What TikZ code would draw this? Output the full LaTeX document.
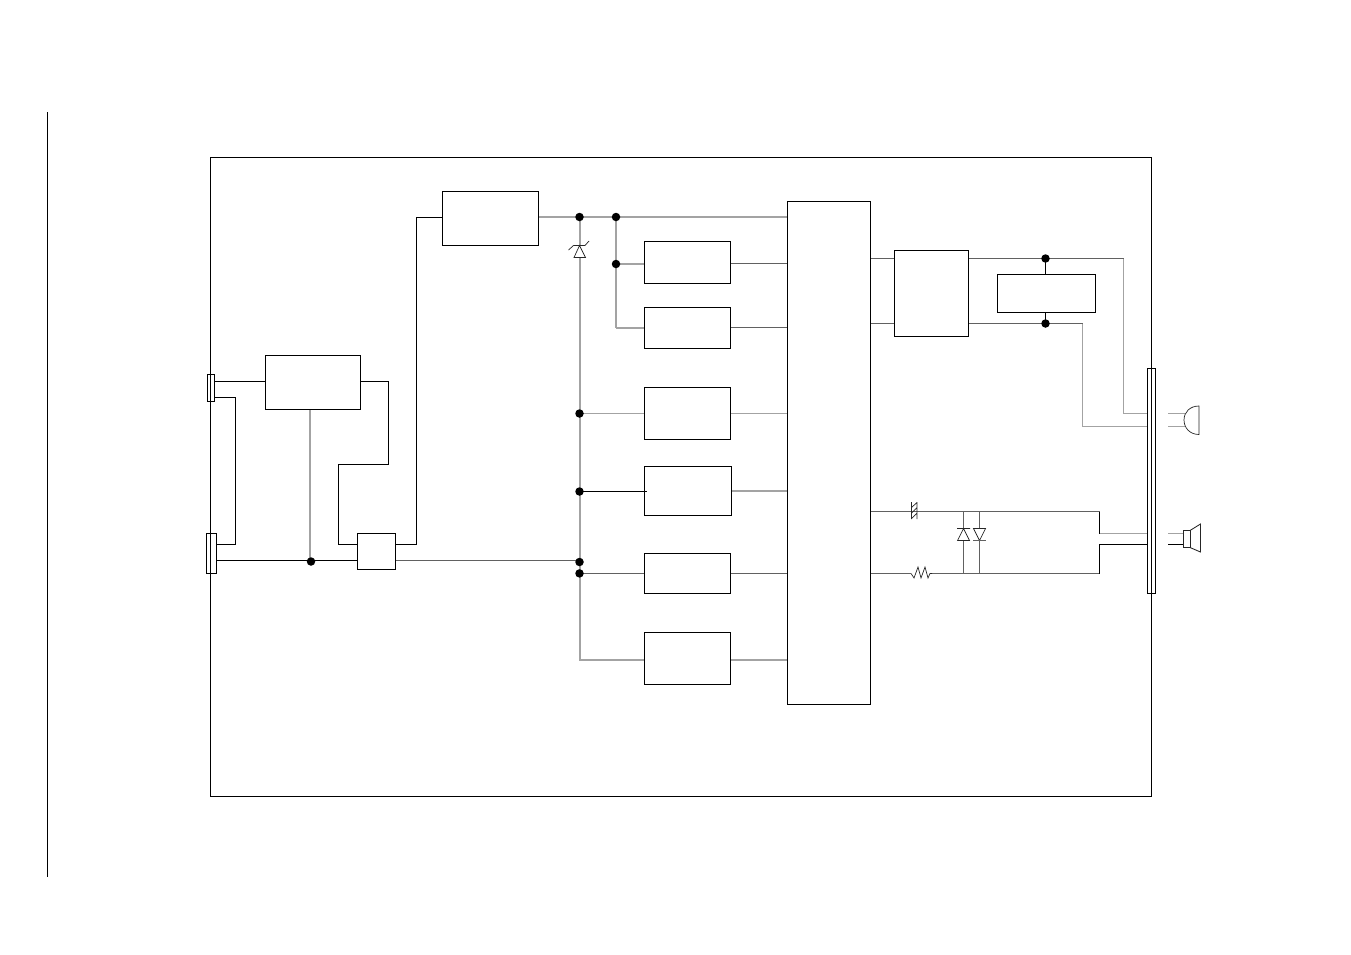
\documentclass[tikz,border=0pt]{standalone}
\pgfdeclarelayer{wires}
\pgfsetlayers{wires,main}
\tikzset{
  boxn/.style={draw=black,line width=.9pt,inner sep=0pt,outer sep=0pt,anchor=north west},
  jdot/.style={circle,fill=black,draw=none,inner sep=0pt,minimum size=8.5pt},
  wk/.style={line width=.9pt,draw=black,line join=miter},
  wg/.style={line width=1.5pt,draw=black!36,line join=miter},
  wd/.style={line width=1.05pt,draw=black!62,line join=miter},
  sym/.style={line width=.7pt,draw=black!85,line join=miter},
}
\begin{document}
\begin{tikzpicture}[x=1pt,y=-1pt]
\useasboundingbox (0,0) rectangle (1351,954);
% page rule and frame
\coordinate (ruleT) at (47,112); \coordinate (ruleB) at (47,877);
\draw[wk] (ruleT) -- (ruleB);
\node[boxn,minimum width=941pt,minimum height=638.5pt] (frame) at (210.5,157.5) {};
% connectors
\node[boxn,minimum width=7.5pt,minimum height=27pt] (cnA) at (207,374.5) {};
\node[boxn,minimum width=9.5pt,minimum height=40pt] (cnB) at (206.8,533.5) {};
\node[boxn,minimum width=8pt,minimum height=225pt] (bar) at (1147.5,368.5) {};
% blocks
\node[boxn,minimum width=95pt,minimum height=54pt] (A) at (265.5,355.5) {};
\node[boxn,minimum width=38pt,minimum height=36pt] (sw) at (357.5,533.5) {};
\node[boxn,minimum width=96pt,minimum height=54pt] (B) at (442.5,191.5) {};
\node[boxn,minimum width=86pt,minimum height=42pt] (b1) at (644.5,241.5) {};
\node[boxn,minimum width=86pt,minimum height=41pt] (b2) at (644.5,307.5) {};
\node[boxn,minimum width=86pt,minimum height=52pt] (b3) at (644.5,387.5) {};
\node[boxn,minimum width=87pt,minimum height=49pt] (b4) at (644.5,466.5) {};
\node[boxn,minimum width=86pt,minimum height=40pt] (b5) at (644.5,553.5) {};
\node[boxn,minimum width=86pt,minimum height=52pt] (b6) at (644.5,632.5) {};
\node[boxn,minimum width=83pt,minimum height=503pt] (cpu) at (787.5,201.5) {};
\node[boxn,minimum width=74pt,minimum height=86pt] (C) at (894.5,250.5) {};
\node[boxn,minimum width=98pt,minimum height=38pt] (D) at (997.5,274.5) {};
% junctions
\node[jdot] (j1) at (579.5,217) {};
\node[jdot] (j2) at (616,217) {};
\node[jdot] (j3) at (616,264) {};
\node[jdot] (j4) at (579.5,413.5) {};
\node[jdot] (j5) at (579.5,491.5) {};
\node[jdot] (j6) at (579.5,562) {};
\node[jdot] (j7) at (579.5,573.4) {};
\node[jdot] (j8) at (311,561.5) {};
\node[jdot] (j9) at (1045.5,258.5) {};
\node[jdot] (j10) at (1045.5,323.5) {};
\begin{pgfonlayer}{wires}
% left side
\draw[wk] (cnA.east |- 0,381) -- (A.west |- 0,381);
\draw[wk] (cnA.east |- 0,397.5) -- (235.5,397.5) -- (235.5,544.5) -- (cnB.east |- 0,544.5);
\draw[wk] (cnB.east |- 0,560.5) -- (sw.west |- 0,560.5);
\draw[wg] (310,409.5) -- (310,561);
\draw[wk] (A.east |- 0,381.5) -- (388.5,381.5) -- (388.5,464.5) -- (338.5,464.5) -- (338.5,544.5) -- (sw.west |- 0,544.5);
\draw[wk] (sw.east |- 0,544.5) -- (416.5,544.5) -- (416.5,217.5) -- (B.west |- 0,217.5);
\draw[wd] (sw.east |- 0,560.5) -- (j6.center |- 0,560.5);
% supply rails
\draw[wg] (B.east |- j1) -- (cpu.west |- j1);
\draw[wg] (580,217) -- (580,245);
\draw[wg] (580,258) -- (580,660) -- (b6.west |- 0,660);
\draw[wg] (j2.center) -- (j3.center);
\draw[wg] (j3.center) -- (b1.west |- j3);
\draw[wg] (j3.center) -- (616,328);
\draw[wg] (616,328) -- (b2.west |- 0,328);
\draw[wg] (j4.center) -- (b3.west |- j4);
\draw[wk] (j5.center) -- (647,491.5);
\draw[wd] (j7.center) -- (b5.west |- j7);
% block outputs
\draw[wd] (b1.east |- 0,263.5) -- (cpu.west |- 0,263.5);
\draw[wd] (b2.east |- 0,327.6) -- (cpu.west |- 0,327.6);
\draw[wg] (b3.east |- 0,413.5) -- (cpu.west |- 0,413.5);
\draw[wg] (b4.east |- 0,491) -- (cpu.west |- 0,491);
\draw[wd] (b5.east |- 0,573.5) -- (cpu.west |- 0,573.5);
\draw[wg] (b6.east |- 0,660) -- (cpu.west |- 0,660);
% audio amp
\draw[wd] (cpu.east |- 0,258.5) -- (C.west |- 0,258.5);
\draw[wd] (cpu.east |- 0,323.5) -- (C.west |- 0,323.5);
\draw[wd] (C.east |- 0,258.5) -- (1123.5,258.5);
\draw[wd] (C.east |- 0,323.5) -- (1082.5,323.5);
\draw[wg] (1123.5,258.5) -- (1123.5,413.5) -- (bar.west |- 0,413.5);
\draw[wg] (1082.5,323.5) -- (1082.5,426.5) -- (bar.west |- 0,426.5);
\draw[wk] (j9.center) -- (D.north -| j9);
\draw[wk] (j10.center) -- (D.south -| j10);
% speaker lines
\draw[wd] (cpu.east |- 0,511.5) -- (1099.5,511.5);
\draw[wk] (1099.5,511.5) -- (1099.5,533.5);
\draw[wg,line width=1.7pt] (1099.5,533.5) -- (bar.west |- 0,533.5);
\draw[wd] (cpu.east |- 0,573.5) -- (911,573.5);
\draw[wd] (932,573.5) -- (1099.5,573.5);
\draw[wk] (1099.5,573.5) -- (1099.5,544.5) -- (bar.west |- 0,544.5);
% diodes
\draw[wd] (963.5,511.5) -- (963.5,528.5) (963.5,540.5) -- (963.5,573.5);
\draw[wd] (979.5,511.5) -- (979.5,528.5) (979.5,540.5) -- (979.5,573.5);
\end{pgfonlayer}
% fuse
\draw[sym] (911.5,502) -- (911.5,519) (917,502) -- (917,519)
  (911.5,518.5) -- (917,513) (911.5,513) -- (917,507.5) (911.5,507.5) -- (917,502.5);
% resistor
\draw[sym] (911,573.5) -- (914,578) -- (918,567) -- (921,578) -- (925,567) -- (928,578) -- (930,573.5) -- (932,573.5);
% diode symbols
\draw[sym] (957,528.5) -- (970,528.5) (963.5,528.5) -- (957.5,540.5) -- (969.5,540.5) -- cycle;
\draw[sym] (973.5,528.5) -- (985.5,528.5) -- (979.5,540.5) -- cycle;
\draw[wd] (973,540.5) -- (986,540.5);
% zener
\draw[sym] (579.5,245.5) -- (574,257.5) -- (585.5,257.5) -- cycle;
\draw[sym] (568.5,250) -- (573.5,245.5) -- (585,245.5) -- (589,241);
% microphone
\draw[wg] (1168,413.5) -- (1185,413.5);
\draw[wg] (1168,426.5) -- (1185,426.5);
\draw[sym] (1199,406) .. controls (1190,406) and (1184,412) .. (1184,420) .. controls (1184,428) and (1190,434.5) .. (1199,434.5) -- cycle;
% loudspeaker
\draw[wg,line width=1.7pt] (1168,533.5) -- (1183,533.5);
\draw[wk] (1168,544.5) -- (1183,544.5);
\draw[sym,line width=.85pt] (1183.5,530.5) rectangle (1190,547.5);
\draw[sym,line width=.85pt] (1190,530.5) -- (1200.5,524) -- (1200.5,552) -- (1190,547.5);
\end{tikzpicture}
\end{document}
